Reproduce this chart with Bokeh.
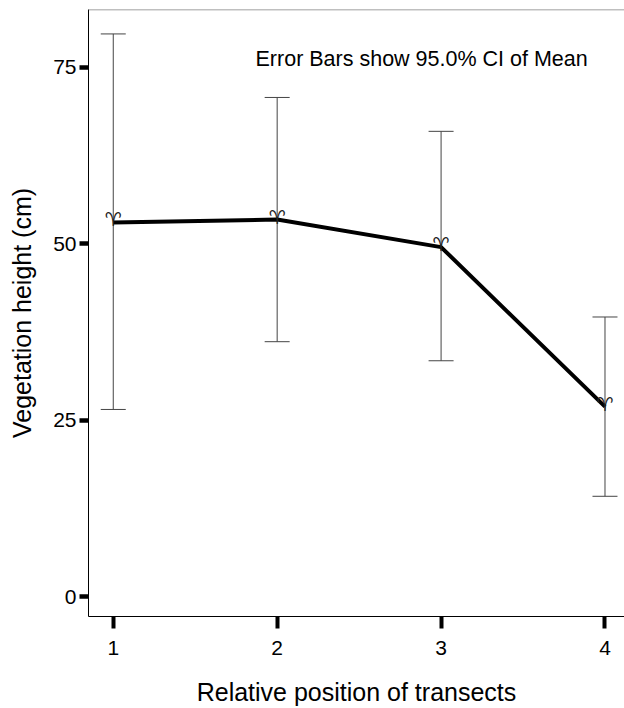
from bokeh.plotting import figure
from bokeh.models import ColumnDataSource, Whisker, TeeHead, Span, Label, FixedTicker
from bokeh.core.properties import value
from bokeh.embed import file_html
from bokeh.resources import INLINE

# ---- data ----
positions = [1, 2, 3, 4]
tick_labels = ["1", "2", "3", "4"]
means = [53.0, 53.4, 49.5, 26.9]
ci_upper = [79.7, 70.7, 65.9, 39.6]
ci_lower = [26.5, 36.1, 33.4, 14.2]
y_ticks = [0, 25, 50, 75]

FONT = "Liberation Sans"

src = ColumnDataSource(dict(x=positions, mean=means, upper=ci_upper, lower=ci_lower))

p = figure(width=624, height=708, output_backend="svg", toolbar_location=None,
           x_range=(0.849, 4.119), y_range=(-2.83, 83.16),
           min_border_left=88, min_border_bottom=91, min_border_top=9, min_border_right=0)
p.background_fill_color = "white"
p.border_fill_color = "white"
p.outline_line_color = None
p.xgrid.visible = False
p.ygrid.visible = False

# top frame line
p.add_layout(Span(location=83.16, dimension="width", line_color="#808080", line_width=1.5))

# error bars
wh = Whisker(base="x", upper="upper", lower="lower", source=src,
             line_color="#444444", line_width=1,
             upper_head=TeeHead(size=25, line_color="#444444", line_width=1),
             lower_head=TeeHead(size=25, line_color="#444444", line_width=1))
p.add_layout(wh)

# mean line
p.line("x", "mean", source=src, line_color="black", line_width=4)

# mean markers
p.text("x", "mean", source=src, text=value("\u2648"), text_font=value("DejaVu Sans"),
       text_font_size="19px", text_align="center", text_baseline="alphabetic",
       y_offset=-3, text_color="#222222")

p.add_layout(Label(x=1.868, y=76.2, text="Error Bars show 95.0% CI of Mean",
                   text_font=FONT, text_font_size="21.5px", text_baseline="alphabetic",
                   text_color="black"))

# x axis
xa = p.xaxis[0]
xa.ticker = FixedTicker(ticks=positions)
xa.major_label_overrides = {pos: lab for pos, lab in zip(positions, tick_labels)}
xa.minor_tick_line_color = None
xa.major_tick_in = 0
xa.major_tick_out = 12
xa.major_tick_line_width = 4
xa.major_tick_line_color = "black"
xa.axis_line_color = "black"
xa.axis_line_width = 1
xa.major_label_text_font = FONT
xa.major_label_text_font_size = "21px"
xa.major_label_text_color = "black"
xa.major_label_standoff = 12
xa.axis_label = "Relative position of transects"
xa.axis_label_text_font = FONT
xa.axis_label_text_font_size = "25px"
xa.axis_label_text_font_style = "normal"
xa.axis_label_text_color = "black"
xa.axis_label_standoff = 20

# y axis
ya = p.yaxis[0]
ya.ticker = FixedTicker(ticks=y_ticks)
ya.minor_tick_line_color = None
ya.major_tick_in = 0
ya.major_tick_out = 9
ya.major_tick_line_width = 4.5
ya.major_tick_line_color = "black"
ya.axis_line_color = "black"
ya.axis_line_width = 1
ya.major_label_text_font = FONT
ya.major_label_text_font_size = "21px"
ya.major_label_text_color = "black"
ya.major_label_standoff = 3
ya.axis_label = "Vegetation height (cm)"
ya.axis_label_text_font = FONT
ya.axis_label_text_font_size = "25px"
ya.axis_label_text_font_style = "normal"
ya.axis_label_text_color = "black"
ya.axis_label_standoff = 14

open("out.html", "w").write(file_html(p, INLINE))
